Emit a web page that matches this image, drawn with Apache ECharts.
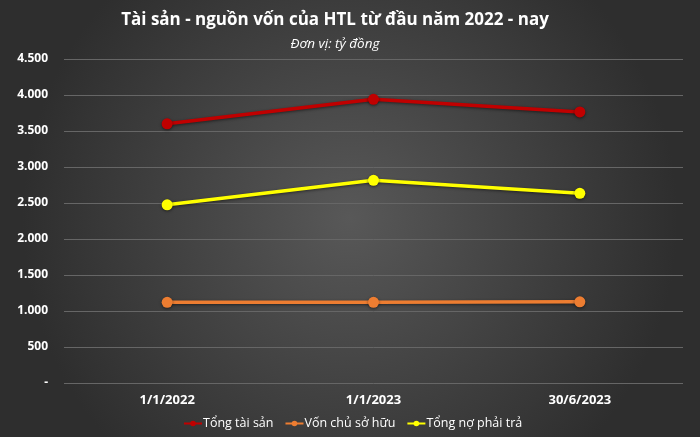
<!DOCTYPE html>
<html><head><meta charset="utf-8">
<script src="https://cdn.jsdelivr.net/npm/echarts@6/dist/echarts.min.js"></script>
<style>html,body{margin:0;padding:0;background:#3a3a3a}#c{width:700px;height:437px}</style>
</head><body><div id="c"></div>
<script>
const categories = ['1/1/2022', '1/1/2023', '30/6/2023'];
const tongTaiSan = [3600, 3940, 3765];
const vonChuSoHuu = [1120, 1120, 1128];
const tongNoPhaiTra = [2475, 2815, 2635];
const yTicks = [0, 500, 1000, 1500, 2000, 2500, 3000, 3500, 4000, 4500];

const chart = echarts.init(document.getElementById('c'));
const fmt = v => v === 0 ? '-' : String(v).replace(/\B(?=(\d{3})+(?!\d))/g, '.');
const mk = (name, data, color) => ({
  name, type: 'line', data, symbol: 'circle', symbolSize: 11,
  lineStyle: { width: 3.5, color, shadowColor: 'rgba(0,0,0,0.5)', shadowBlur: 3, shadowOffsetY: 1 },
  itemStyle: { color, shadowColor: 'rgba(0,0,0,0.5)', shadowBlur: 3, shadowOffsetY: 1 },
  emphasis: { disabled: true }
});
chart.setOption({
  animation: false,
  backgroundColor: {
    type: 'radial', x: 0.5, y: 0.5, r: 0.75,
    colorStops: [{ offset: 0, color: '#585858' }, { offset: 1, color: '#2e2e2e' }]
  },
  textStyle: { fontFamily: 'Open Sans' },
  title: [
    { text: 'Tài sản - nguồn vốn của HTL từ đầu năm 2022 - nay', left: 330, top: 7, textAlign: 'center',
      textStyle: { color: '#ffffff', fontSize: 17, fontWeight: 'bold', fontFamily: 'Open Sans' } },
    { text: 'Đơn vị: tỷ đồng', left: 330, top: 32, textAlign: 'center',
      textStyle: { color: '#ffffff', fontSize: 13.5, fontStyle: 'italic', fontWeight: 'normal', fontFamily: 'Open Sans' } }
  ],
  legend: {
    bottom: 2, left: 178, itemWidth: 18, itemHeight: 7, itemGap: 11,
    textStyle: { color: '#ffffff', fontSize: 12.5, fontFamily: 'Open Sans', padding: [0, 0, 0, -4] },
    data: ['Tổng tài sản', 'Vốn chủ sở hữu', 'Tổng nợ phải trả']
  },
  grid: { left: 64, right: 17, top: 59, bottom: 54 },
  xAxis: {
    type: 'category', data: categories, boundaryGap: true,
    axisLine: { show: false }, axisTick: { show: false },
    axisLabel: { color: '#ffffff', fontWeight: 'bold', fontSize: 13, margin: 11 }
  },
  yAxis: {
    type: 'value', min: yTicks[0], max: yTicks[yTicks.length - 1], interval: 500,
    axisLine: { show: false }, axisTick: { show: false },
    splitLine: { lineStyle: { color: '#666666', width: 1 } },
    axisLabel: { color: '#ffffff', fontWeight: 'bold', fontSize: 12, margin: 16, formatter: fmt }
  },
  series: [
    mk('Tổng tài sản', tongTaiSan, '#C00000'),
    mk('Vốn chủ sở hữu', vonChuSoHuu, '#ED7D31'),
    mk('Tổng nợ phải trả', tongNoPhaiTra, '#FFFF00')
  ]
});
</script></body></html>
